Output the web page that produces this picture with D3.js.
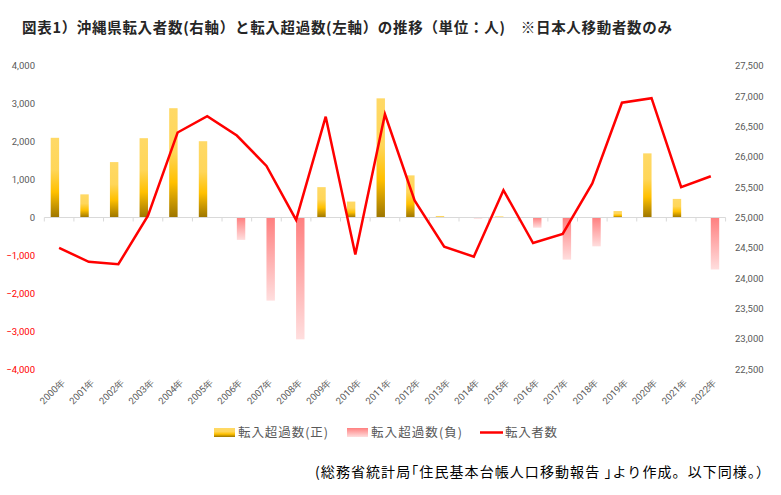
<!DOCTYPE html>
<html>
<head>
<meta charset="utf-8">
<script src="https://cdn.jsdelivr.net/npm/d3@7"></script>
<style>
  body { margin: 0; background: #fff; }
  svg { display: block; }
</style>
</head>
<body>
<div id="chart"></div>
<script>
"use strict";

const YEARS = ["2000年", "2001年", "2002年", "2003年", "2004年", "2005年", "2006年", "2007年",
  "2008年", "2009年", "2010年", "2011年", "2012年", "2013年", "2014年", "2015年", "2016年",
  "2017年", "2018年", "2019年", "2020年", "2021年", "2022年"];

// 転入超過数(正) / (負) -- left axis, null where the year is on the other side
const NET_POS = [2100, 610, 1460, 2090, 2880, 2010, null, null, null, 800, 420, 3140,
  1110, 40, null, 30, null, null, null, 170, 1690, 490, null];
const NET_NEG = [null, null, null, null, null, null, -590, -2190, -3210, null, null, null,
  null, null, -30, null, -270, -1110, -760, null, null, null, -1370];

// 転入者数 -- right axis
const INFLOW = [24500, 24270, 24230, 25030, 26400, 26670, 26350, 25850, 24960, 26660,
  24390, 26700, 25280, 24520, 24355, 25450, 24580, 24730, 25560, 26890, 26965, 25500, 25680];

const LEFT_TICKS = [-4000, -3000, -2000, -1000, 0, 1000, 2000, 3000, 4000];
const RIGHT_TICKS = [22500, 23000, 23500, 24000, 24500, 25000, 25500, 26000, 26500, 27000, 27500];

const LEGEND = ["転入超過数(正)", "転入超過数(負)", "転入者数"];

const TITLE = "図表1）沖縄県転入者数(右軸）と転入超過数(左軸）の推移（単位：人)　※日本人移動者数のみ";
const SOURCE = "(総務省統計局｢住民基本台帳人口移動報告 ｣より作成。以下同様。）";

const width = 781, height = 495;
const numFont = "Roboto, 'Noto Sans', sans-serif";
const jpFont = "'Noto Sans CJK JP', sans-serif";

const svg = d3.select("#chart")
  .append("svg")
  .attr("width", width)
  .attr("height", height);

const defs = svg.append("defs");

const posGrad = defs.append("linearGradient")
  .attr("id", "posGrad")
  .attr("x1", 0).attr("y1", 0).attr("x2", 0).attr("y2", 1);
posGrad.append("stop").attr("offset", "0%").attr("stop-color", "#ffd966");
posGrad.append("stop").attr("offset", "40%").attr("stop-color", "#ffd659");
posGrad.append("stop").attr("offset", "68%").attr("stop-color", "#ffc000");
posGrad.append("stop").attr("offset", "100%").attr("stop-color", "#9c7500");

const negGrad = defs.append("linearGradient")
  .attr("id", "negGrad")
  .attr("x1", 0).attr("y1", 0).attr("x2", 0).attr("y2", 1);
negGrad.append("stop").attr("offset", "0%").attr("stop-color", "#ff7f7f");
negGrad.append("stop").attr("offset", "100%").attr("stop-color", "#ffdede");

// scales
const x = d3.scaleBand()
  .domain(YEARS)
  .range([44.3, 725.6]);

const xs = d3.scaleBand()
  .domain(["pos", "neg"])
  .range([0, x.bandwidth()])
  .paddingInner(0)
  .paddingOuter(0.76);

const yL = d3.scaleLinear()
  .domain([-4000, 4000])
  .range([369.3, 65.7]);

const yR = d3.scaleLinear()
  .domain([22500, 27500])
  .range([369.3, 65.7]);

// left axis
const leftAxis = svg.append("g")
  .attr("transform", "translate(35,0)")
  .call(d3.axisLeft(yL).tickValues(LEFT_TICKS).tickSize(0).tickPadding(0)
    .tickFormat(d3.format(",")));
leftAxis.select(".domain").remove();
leftAxis.selectAll("text")
  .attr("font-family", numFont)
  .attr("font-size", 9.5)
  .attr("fill", d => d < 0 ? "#ff0000" : "#595959");

// right axis
const rightAxis = svg.append("g")
  .attr("transform", "translate(735,0)")
  .call(d3.axisRight(yR).tickValues(RIGHT_TICKS).tickSize(0).tickPadding(0)
    .tickFormat(d3.format(",")));
rightAxis.select(".domain").remove();
rightAxis.selectAll("text")
  .attr("font-family", numFont)
  .attr("font-size", 9.5)
  .attr("fill", "#595959");

// bars
svg.append("g")
  .selectAll("rect")
  .data(YEARS.map((y, i) => ({ year: y, v: NET_POS[i] })).filter(d => d.v !== null))
  .enter()
  .append("rect")
  .attr("x", d => x(d.year) + xs("pos"))
  .attr("width", xs.bandwidth())
  .attr("y", d => yL(d.v))
  .attr("height", d => yL(0) - yL(d.v))
  .attr("fill", "url(#posGrad)");

svg.append("g")
  .selectAll("rect")
  .data(YEARS.map((y, i) => ({ year: y, v: NET_NEG[i] })).filter(d => d.v !== null))
  .enter()
  .append("rect")
  .attr("x", d => x(d.year) + xs("neg"))
  .attr("width", xs.bandwidth())
  .attr("y", yL(0))
  .attr("height", d => yL(d.v) - yL(0))
  .attr("fill", "url(#negGrad)");

// x axis at zero
const xAxis = svg.append("g")
  .attr("transform", `translate(0,${yL(0)})`);
xAxis.append("line")
  .attr("x1", x.range()[0]).attr("x2", x.range()[1])
  .attr("stroke", "#d9d9d9");
xAxis.selectAll(".tk")
  .data(YEARS.concat(["end"]))
  .enter()
  .append("line")
  .attr("x1", (d, i) => x.range()[0] + i * x.step())
  .attr("x2", (d, i) => x.range()[0] + i * x.step())
  .attr("y1", 0).attr("y2", 4)
  .attr("stroke", "#d9d9d9");

// x labels, rotated
svg.append("g")
  .selectAll("text")
  .data(YEARS)
  .enter()
  .append("text")
  .attr("transform", d => `translate(${x(d) + x.bandwidth() / 2 + 2},378) rotate(-45)`)
  .attr("text-anchor", "end")
  .attr("dy", "0.7em")
  .attr("font-family", numFont)
  .attr("font-size", 9.5)
  .attr("fill", "#595959")
  .text(d => d);

// line
const line = d3.line()
  .x((d, i) => x(YEARS[i]) + x.bandwidth() / 2)
  .y(d => yR(d));

svg.append("path")
  .datum(INFLOW)
  .attr("d", line)
  .attr("fill", "none")
  .attr("stroke", "#ff0000")
  .attr("stroke-width", 2.5)
  .attr("stroke-linejoin", "miter");

// title
svg.append("text")
  .attr("x", 22)
  .attr("y", 33)
  .attr("font-family", jpFont)
  .attr("font-weight", "bold")
  .attr("font-size", 14.5)
  .attr("fill", "#262626")
  .attr("textLength", 650)
  .attr("lengthAdjust", "spacing")
  .text(TITLE);

// legend
const legend = svg.append("g").attr("font-family", jpFont).attr("font-size", 12.5).attr("fill", "#595959");
const legX = [214, 347, 480];
legend.append("rect").attr("x", legX[0]).attr("y", 428).attr("width", 21).attr("height", 9).attr("fill", "url(#posGrad)");
legend.append("rect").attr("x", legX[1]).attr("y", 428).attr("width", 21).attr("height", 9).attr("fill", "url(#negGrad)");
legend.append("line").attr("x1", legX[2]).attr("x2", legX[2] + 23).attr("y1", 432.5).attr("y2", 432.5)
  .attr("stroke", "#ff0000").attr("stroke-width", 2.5);
legend.selectAll("text")
  .data(LEGEND)
  .enter()
  .append("text")
  .attr("x", (d, i) => [238, 371, 505][i])
  .attr("y", 437)
  .attr("textLength", (d, i) => [90, 91, 52][i])
  .attr("lengthAdjust", "spacing")
  .text(d => d);

// source
svg.append("text")
  .attr("x", 315)
  .attr("y", 477)
  .attr("font-family", jpFont)
  .attr("font-size", 14)
  .attr("fill", "#000")
  .attr("textLength", 455)
  .attr("lengthAdjust", "spacing")
  .text(SOURCE);
</script>
</body>
</html>
